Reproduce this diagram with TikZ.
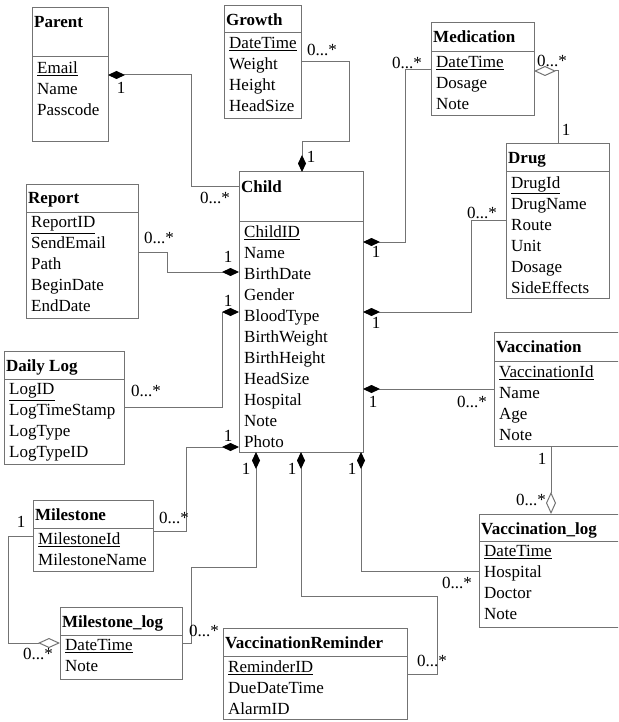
\documentclass[tikz,border=0pt]{standalone}
\usepackage{fontspec}
\setmainfont{Liberation Serif}
\usetikzlibrary{arrows.meta}
\tikzset{
  cls/.style={draw=black!55, line width=1pt, anchor=north west, inner sep=0pt, outer sep=0pt},
  sepline/.style={draw=black!55, line width=1pt},
  ttl/.style={anchor=base west, inner xsep=2pt, inner ysep=0pt, font=\fontsize{17}{21}\selectfont\bfseries},
  att/.style={anchor=north west, inner xsep=5pt, inner ysep=4.5pt, align=left,
    font=\fontsize{17}{21}\selectfont, execute at begin node=\strut},
  mult/.style={inner sep=0pt, font=\fontsize{17}{21}\selectfont},
  conn/.style={draw=black!55, line width=1pt},
  comp/.style={conn, -{Diamond[length=17pt,width=8pt,color=black]}},
  aggr/.style={conn, -{Diamond[open,length=22pt,width=10pt]}},
}
\begin{document}
\begin{tikzpicture}[x=1pt,y=-1pt]
  \useasboundingbox (0,0) rectangle (618,722);
  \clip (0,0) rectangle (618,722);
  % classes: name/x/y/width/header/height/title/attributes
  \foreach \n/\x/\y/\w/\s/\h/\t/\a in {
    parent/32/8/76/49/134/Parent/\underline{Email}\\Name\\Passcode,
    growth/224/6/77/27/113/Growth/\underline{DateTime}\\Weight\\Height\\HeadSize,
    medication/431/23/103/29/93/Medication/\underline{DateTime}\\Dosage\\Note,
    drug/506/144/103/28/154/Drug/\underline{DrugId}\\DrugName\\Route\\Unit\\Dosage\\SideEffects,
    child/239/172/124/49/280/Child/\underline{ChildID}\\Name\\BirthDate\\Gender\\BloodType\\BirthWeight\\BirthHeight\\HeadSize\\Hospital\\Note\\Photo,
    report/26/184/112/28/134/Report/\underline{ReportID}\\SendEmail\\Path\\BeginDate\\EndDate,
    dailylog/4/351/120/28/113/Daily Log/\underline{LogID}\\LogTimeStamp\\LogType\\LogTypeID,
    vaccination/494/332/130/29/114/Vaccination/\underline{VaccinationId}\\Name\\Age\\Note,
    milestone/33/500/120/28/71/Milestone/\underline{MilestoneId}\\MilestoneName,
    vlog/479/514/145/27/113/Vaccination\_log/\underline{DateTime}\\Hospital\\Doctor\\Note,
    mlog/60/607/122/28/72/Milestone\_log/\underline{DateTime}\\Note,
    reminder/223/628/184/28/91/VaccinationReminder/\underline{ReminderID}\\DueDateTime\\AlarmID}{
    \node[cls, minimum width=\w pt, minimum height=\h pt] (\n) at (\x,\y) {};
    \draw[sepline] ([yshift=-\s pt]\n.north west) -- ([yshift=-\s pt]\n.north east);
    \node[ttl] (\n-t) at ([yshift=-20pt]\n.north west) {\t};
    \node[att] (\n-a) at ([yshift=-\s pt]\n.north west) {\a};
  }
  % composition links, diamond at the owner
  \draw[comp] ([yshift=-14pt]child.north west) -- ++(-48pt,0) |- ([yshift=-67pt]parent.north east);
  \draw[comp] ([yshift=-56pt]growth.north east) -- ++(48pt,0) -- ++(0,-80pt) -| ([xshift=63pt]child.north west);
  \draw[comp] ([yshift=-47pt]medication.north west) -- ++(-26pt,0) |- ([yshift=-70pt]child.north east);
  \draw[comp] ([yshift=-76pt]drug.north west) -- ++(-35pt,0) |- ([yshift=-140pt]child.north east);
  \draw[comp] ([yshift=-68pt]report.north east) -- ++(29pt,0) |- ([yshift=-100pt]child.north west);
  \draw[comp] ([yshift=-56pt]dailylog.north east) -- ++(98pt,0) |- ([yshift=-140pt]child.north west);
  \draw[comp] ([yshift=-31pt]milestone.north east) -- ++(33pt,0) |- ([yshift=-275pt]child.north west);
  \draw[comp] ([yshift=-57pt]vaccination.north west) -- ([yshift=-217pt]child.north east);
  \draw[comp] ([yshift=-36pt]mlog.north east) -- ++(9pt,0) -- ++(0,76pt) -| ([xshift=17pt]child.south west);
  \draw[comp] ([yshift=-46pt]reminder.north east) -- ++(30pt,0) -- ++(0,78pt) -| ([xshift=62pt]child.south west);
  \draw[comp] ([yshift=-57pt]vlog.north west) -| ([xshift=-2pt]child.south east);
  % aggregation links
  \draw[aggr] ([xshift=52pt]drug.north west) |- ([yshift=-48pt]medication.north east);
  \draw[aggr] ([yshift=-36pt]milestone.north west) -- ++(-25pt,0) |- ([yshift=-36pt]mlog.north west);
  \draw[aggr] ([xshift=57pt]vaccination.south west) -- ([xshift=72pt]vlog.north west);
  % multiplicities
  \foreach \x/\y [count=\i] in {121/88,311/157,376/252,566/130,376/323,228/257,228/301,
    228/436,21/522,246/469,292/469,352/469,373/402,542/459}
    \node[mult] (one\i) at (\x,\y) {1};
  \foreach \x/\y [count=\i] in {215/198,322/50,407/63,552/61,482/213,159/238,146/391,
    174/518,38/654,204/631,457/583,432/661,472/402,531/500}
    \node[mult] (many\i) at (\x,\y) {0...*};
\end{tikzpicture}
\end{document}
